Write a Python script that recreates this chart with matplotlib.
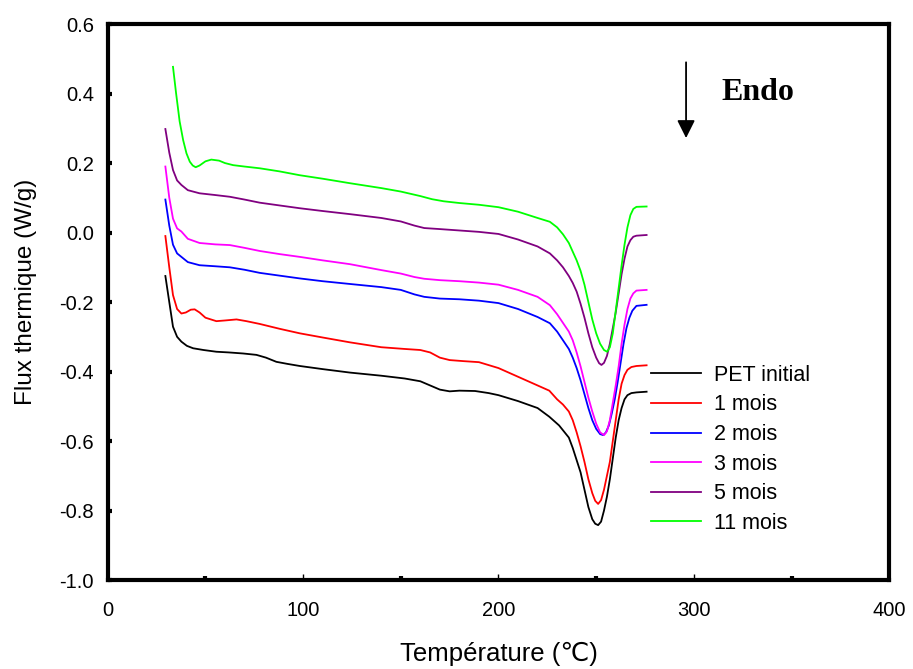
import matplotlib
matplotlib.use("Agg")
import matplotlib.pyplot as plt
import numpy as np
from matplotlib.ticker import MultipleLocator

plt.rcParams['font.family'] = ['Liberation Sans', 'DejaVu Sans']

# PET initial
t0 = [29.5, 31.5, 33.4, 35.5, 37.7, 40.5, 43.7, 49, 55.6, 62, 69.3, 76.1, 81, 86.3, 92, 98.3, 110, 124, 140, 152, 160, 165, 170, 175, 180, 188,
      195, 200, 210, 220, 226, 231, 236, 238, 240, 242, 244, 246, 248, 249.5, 251, 252.5, 254, 255.5, 257, 258.5, 260, 261.5,
      263, 264.5, 266, 268, 270.6, 275.8]
v0 = [-0.125, -0.2, -0.271, -0.3, -0.314, -0.326, -0.333, -0.338, -0.343, -0.345, -0.348, -0.352, -0.36, -0.372, -0.378, -0.384, -0.393, -0.403, -0.412, -0.42, -0.428, -0.44, -0.452, -0.457, -0.455, -0.456,
      -0.462, -0.468, -0.485, -0.505, -0.53, -0.555, -0.59, -0.62, -0.655, -0.69, -0.74, -0.79, -0.825, -0.838, -0.842, -0.832, -0.80, -0.76, -0.71, -0.65, -0.59, -0.54,
      -0.505, -0.48, -0.468, -0.462, -0.46, -0.458]

# 1 mois
t1 = [29.5, 31.5, 33.4, 35.5, 37.7, 40, 42.5, 44.5, 47, 50, 55.6, 60, 65.9, 71, 77.8, 88, 98.3, 110, 124, 140, 152, 160, 165, 170, 175, 182,
      190, 200, 210, 220, 226, 230, 233, 236, 238, 240, 242, 244, 246, 248, 249.5, 251, 252.5, 254, 255.5, 257, 258.5, 260, 261.5,
      263, 264.5, 266, 268, 270.6, 275.8]
v1 = [-0.01, -0.1, -0.18, -0.22, -0.233, -0.23, -0.222, -0.221, -0.23, -0.245, -0.255, -0.253, -0.25, -0.255, -0.263, -0.277, -0.29, -0.302, -0.316, -0.33, -0.335, -0.338, -0.345, -0.36, -0.367, -0.37,
      -0.373, -0.39, -0.415, -0.44, -0.455, -0.48, -0.495, -0.515, -0.54, -0.575, -0.615, -0.66, -0.71, -0.75, -0.772, -0.781, -0.77, -0.74, -0.70, -0.66, -0.60, -0.54, -0.48,
      -0.435, -0.41, -0.395, -0.387, -0.384, -0.382]

# 2 mois
t2 = [29.5, 31.5, 33.4, 35.5, 37.7, 41, 47, 55, 62.5, 70, 77.8, 88, 98.3, 110, 124, 140, 150, 157, 162, 170, 180, 190, 200, 210, 220,
      226.3, 230, 233, 236, 238, 240, 242, 244, 246, 248, 250, 252, 253.6, 255, 256.5, 258, 259.5, 261, 262.5, 264, 265.5,
      267, 268.5, 270.6, 275.8]
v2 = [0.095, 0.02, -0.035, -0.06, -0.07, -0.085, -0.094, -0.097, -0.1, -0.107, -0.116, -0.124, -0.132, -0.14, -0.148, -0.157, -0.165, -0.178, -0.185, -0.19, -0.192, -0.196, -0.203, -0.22, -0.243,
      -0.261, -0.285, -0.31, -0.335, -0.36, -0.39, -0.425, -0.465, -0.505, -0.54, -0.565, -0.58, -0.583, -0.575, -0.555, -0.52, -0.48, -0.43, -0.375, -0.32, -0.275,
      -0.245, -0.225, -0.211, -0.208]

# 3 mois
t3 = [29.5, 31.5, 33.4, 35.5, 37.7, 41, 47, 55, 62.5, 70, 77.8, 88, 98.3, 110, 124, 140, 150, 157, 162, 170, 180, 190, 200, 210, 220,
      226.3, 230, 233, 236, 238, 240, 242, 244, 246, 248, 250, 252, 254, 255.5, 257, 258.5, 260, 261.5, 263, 264.5, 266,
      267.5, 269, 270.6, 275.8]
v3 = [0.19, 0.1, 0.04, 0.012, 0.003, -0.018, -0.03, -0.034, -0.036, -0.044, -0.053, -0.062, -0.07, -0.08, -0.091, -0.108, -0.118, -0.128, -0.133, -0.137, -0.14, -0.144, -0.15, -0.165, -0.185,
      -0.209, -0.235, -0.26, -0.285, -0.31, -0.345, -0.385, -0.43, -0.475, -0.515, -0.55, -0.575, -0.583, -0.572, -0.54, -0.49, -0.44, -0.385, -0.32, -0.265, -0.22,
      -0.19, -0.175, -0.167, -0.165]

# 5 mois
t5 = [29.5, 31.5, 33.4, 35.5, 37.7, 41, 47, 55, 62.5, 70, 77.8, 88, 98.3, 110, 124, 140, 150, 157, 162, 170, 180, 190, 200, 210, 220,
      226.3, 230, 233, 236, 238, 240, 242, 244, 246, 248, 250, 251.5, 252.7, 254, 255.5, 257, 258.5, 260, 261.5, 263, 264.5,
      266, 267.5, 269, 270.6, 275.8]
v5 = [0.298, 0.23, 0.18, 0.15, 0.137, 0.122, 0.113, 0.108, 0.103, 0.095, 0.086, 0.078, 0.07, 0.062, 0.053, 0.042, 0.032, 0.02, 0.013, 0.01, 0.006, 0.002, -0.004, -0.02, -0.04,
      -0.06, -0.08, -0.1, -0.125, -0.145, -0.17, -0.205, -0.245, -0.29, -0.33, -0.36, -0.376, -0.381, -0.375, -0.355, -0.32, -0.275, -0.23, -0.175, -0.12, -0.075,
      -0.04, -0.022, -0.012, -0.009, -0.007]

# 11 mois
t11 = [33.4, 35, 36.8, 38.6, 40.3, 42, 43.5, 45, 47, 50, 53, 57, 60, 64.2, 70, 77.8, 88, 98.3, 110, 124, 140, 150, 160, 166, 172, 180, 190, 200, 210, 220,
       226.3, 230, 233, 236, 238, 240, 242, 244, 246, 248, 250, 252, 254, 255.6, 257, 258.5, 260, 261.5, 263, 264.5, 266,
       267.5, 269, 270.6, 275.8]
v11 = [0.477, 0.4, 0.32, 0.266, 0.228, 0.204, 0.193, 0.188, 0.193, 0.205, 0.21, 0.207, 0.2, 0.194, 0.19, 0.185, 0.176, 0.165, 0.155, 0.142, 0.128, 0.118, 0.105, 0.096, 0.09, 0.085, 0.08, 0.073, 0.06, 0.042,
       0.031, 0.015, -0.005, -0.03, -0.055, -0.08, -0.11, -0.15, -0.2, -0.25, -0.29, -0.32, -0.338, -0.343, -0.33, -0.29, -0.225, -0.16, -0.095, -0.035, 0.015,
       0.05, 0.068, 0.074, 0.075]

series = [
    (t0, v0, 'black', 'PET initial'),
    (t1, v1, '#ff0000', '1 mois'),
    (t2, v2, '#0000ff', '2 mois'),
    (t3, v3, '#ff00ff', '3 mois'),
    (t5, v5, '#800080', '5 mois'),
    (t11, v11, '#00ff00', '11 mois'),
]

fig = plt.figure(figsize=(9.13, 6.69), dpi=100)
ax = fig.add_axes([0.118, 0.133, 0.856, 0.831])

for t, v, c, lab in series:
    ax.plot(t, v, color=c, lw=1.3, label=lab)

ax.set_xlim(0, 400)
ax.set_ylim(-1.0, 0.6)
ax.xaxis.set_major_locator(MultipleLocator(100))
ax.xaxis.set_minor_locator(MultipleLocator(50))
ax.yaxis.set_major_locator(MultipleLocator(0.2))
ax.yaxis.set_major_formatter(plt.FuncFormatter(lambda y, p: f"{y:.1f}"))
ax.tick_params(which='major', direction='in', length=4, width=1, labelsize=14.5, pad=10)
ax.tick_params(which='minor', direction='in', length=3, width=3)
ax.tick_params(axis='x', which='major', pad=15)
ax.tick_params(axis='y', which='major', width=3, length=3)
for s in ax.spines.values():
    s.set_linewidth(3)

ax.set_xlabel('Température (℃)', fontsize=18.5, va='center')
ax.xaxis.set_label_coords(0.5, -0.133)
ax.set_ylabel('Flux thermique (W/g)', fontsize=17.5, va='center')
ax.yaxis.set_label_coords(-0.105, 0.518)

# Endo arrow
ax.annotate('', xy=(296, 0.272), xytext=(296, 0.49),
            arrowprops=dict(arrowstyle='-|>', color='black', lw=1.3, mutation_scale=27,
                            shrinkA=0, shrinkB=0))
ax.text(314, 0.404, 'Endo', fontsize=23, fontweight='bold', family='Liberation Serif',
        ha='left', va='center')

ax.legend(loc='upper left', bbox_to_anchor=(0.695, 0.387), frameon=False, fontsize=15.5,
          handlelength=2.33, handletextpad=0.6, labelspacing=0.4, borderpad=0, borderaxespad=0)

fig.savefig('out.png', dpi=100)
